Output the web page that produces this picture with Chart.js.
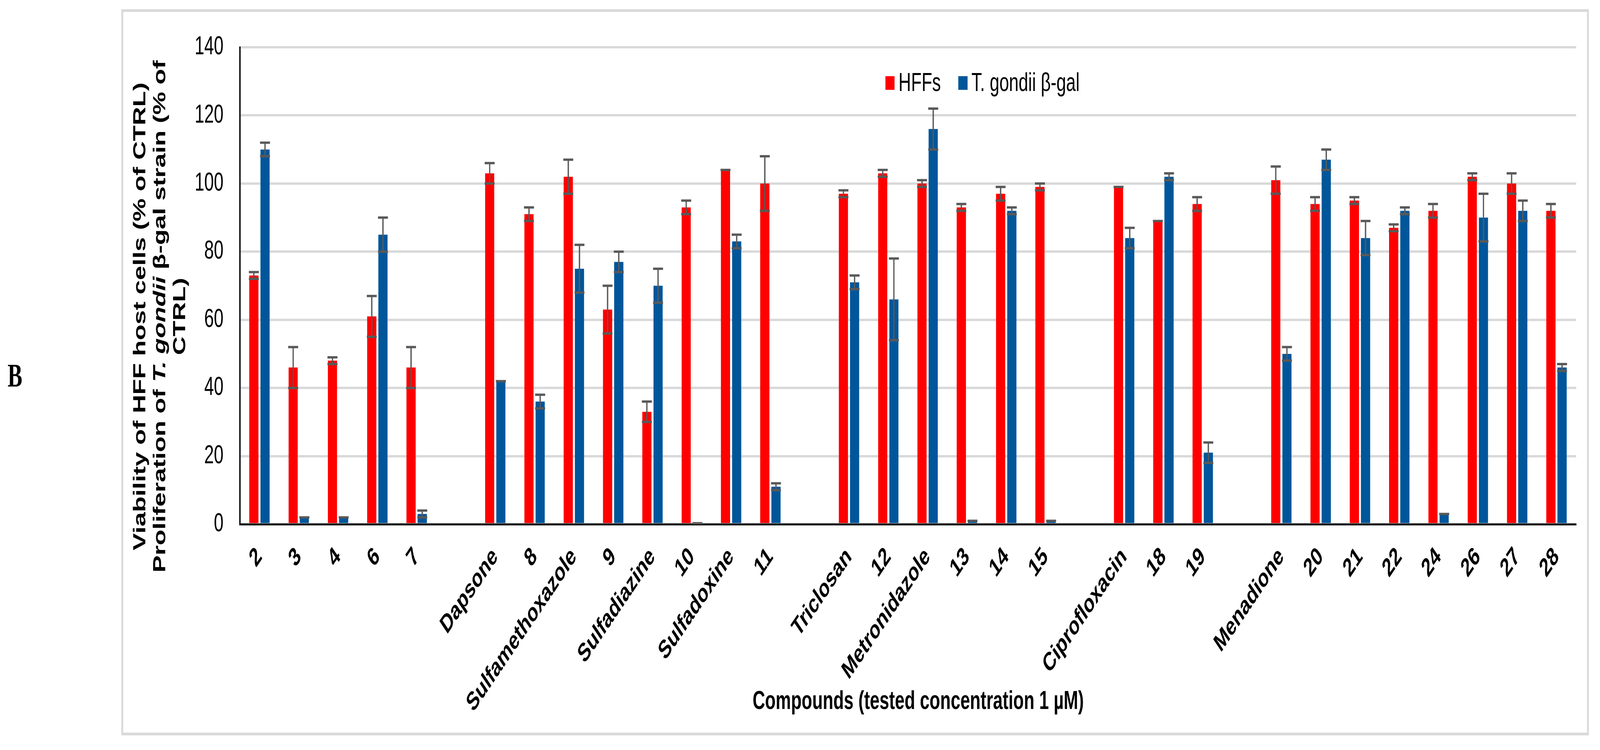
<!DOCTYPE html>
<html><head><meta charset="utf-8">
<script src="https://cdn.jsdelivr.net/npm/chart.js@4.4.1/dist/chart.umd.min.js"></script>
<style>html,body{margin:0;padding:0;background:#fff;overflow:hidden;} #c{display:block;width:100vw;height:100vh;}</style>
</head><body><canvas id="c" width="6099" height="1920" style="width:100vw;height:100vh;"></canvas>
<script>
const categories = ['2','3','4','6','7','',
  'Dapsone','8','Sulfamethoxazole','9','Sulfadiazine','10','Sulfadoxine','11','',
  'Triclosan','12','Metronidazole','13','14','15','',
  'Ciprofloxacin','18','19','',
  'Menadione','20','21','22','24','26','27','28'];
const hffValues = [73,46,48,61,46,null, 103,91,102,63,33,93,104,100,null, 97,103,100,93,97,99,null, 99,89,94,null, 101,94,95,87,92,102,100,92];
const hffErrors = [1,6,1,6,6,null, 3,2,5,7,3,2,0,8,null, 1,1,1,1,2,1,null, 0,0,2,null, 4,2,1,1,2,1,3,2];
const tgValues  = [110,2,2,85,3,null, 42,36,75,77,70,0.3,83,11,null, 71,66,116,1,92,1,null, 84,102,21,null, 50,107,84,92,3,90,92,46];
const tgErrors  = [2,0,0,5,1,null, 0,2,7,3,5,0,2,1,null, 2,12,6,0,1,0,null, 3,1,3,null, 2,3,5,1,0,7,3,1];
const yTicks = [0,20,40,60,80,100,120,140];
const seriesNames = ['HFFs','T. gondii β-gal'];
const seriesColors = ['#ff0000','#00569a'];

const FONT = '"Liberation Sans", Arial, sans-serif';

const framePlugin = {
  id:'frame',
  beforeDraw(chart){
    const ctx = chart.ctx;
    ctx.save();
    ctx.fillStyle = '#fff';
    ctx.fillRect(0,0,chart.width,chart.height);
    ctx.strokeStyle = '#d9d9d9';
    ctx.lineWidth = 7;
    ctx.strokeRect(466,27,6053-466,1879-27);
    ctx.restore();
  }
};

const errorBarPlugin = {
  id:'errbars',
  afterDatasetsDraw(chart){
    const ctx = chart.ctx, y = chart.scales.y;
    chart.data.datasets.forEach((ds,i)=>{
      const meta = chart.getDatasetMeta(i);
      meta.data.forEach((el,j)=>{
        const v = ds.data[j], e = ds.errors[j];
        if (v == null) return;
        const top = y.getPixelForValue(v + e), bot = y.getPixelForValue(Math.max(v - e, 0));
        const half = el.width/2 + 1.5;
        ctx.save();
        ctx.strokeStyle = '#595959';
        ctx.lineWidth = 5;
        ctx.beginPath(); ctx.moveTo(el.x, top); ctx.lineTo(el.x, bot); ctx.stroke();
        ctx.lineWidth = 6;
        ctx.beginPath();
        ctx.moveTo(el.x-half, top); ctx.lineTo(el.x+half, top);
        ctx.moveTo(el.x-half, bot); ctx.lineTo(el.x+half, bot);
        ctx.stroke();
        ctx.restore();
      });
    });
  }
};

const textPlugin = {
  id:'texts',
  afterDraw(chart){
    const ctx = chart.ctx;
    ctx.save();
    ctx.fillStyle = '#000';
    ctx.font = 'bold 84px "Liberation Serif", "Times New Roman", serif';
    ctx.textAlign = 'left'; ctx.textBaseline = 'alphabetic';
    ctx.fillText('B', 29, 990);
    ctx.font = 'bold 66px ' + FONT;
    ctx.textAlign = 'center';
    ctx.fillText('Compounds (tested concentration 1 µM)', 3500, 1815);
    const lines = [
      [['Viability of HFF host cells (% of CTRL)','bold']],
      [['Proliferation of ','bold'],['T. gondii','italic bold'],[' β-gal strain (% of','bold']],
      [['CTRL)','bold']]
    ];
    const xs = [554, 630, 706];
    lines.forEach((segs,li)=>{
      ctx.save();
      ctx.translate(xs[li], 810);
      ctx.rotate(-Math.PI/2);
      ctx.textAlign = 'left';
      let total = 0;
      segs.forEach(s=>{ ctx.font = s[1]+' 66px '+FONT; total += ctx.measureText(s[0]).width; });
      let x = -total/2;
      segs.forEach(s=>{ ctx.font = s[1]+' 66px '+FONT; ctx.fillText(s[0], x, 0); x += ctx.measureText(s[0]).width; });
      ctx.restore();
    });
    ctx.font = '66px ' + FONT;
    ctx.textAlign = 'left';
    const lx = [3375, 3653];
    seriesNames.forEach((n,i)=>{
      ctx.fillStyle = seriesColors[i];
      ctx.fillRect(lx[i], 195, 35, 35);
      ctx.fillStyle = '#000';
      ctx.fillText(n, lx[i] + 50, 233);
    });
    ctx.restore();
  }
};

new Chart(document.getElementById('c'), {
  type:'bar',
  data:{
    labels: categories,
    datasets:[
      {label:seriesNames[0], data:hffValues, errors:hffErrors, backgroundColor:seriesColors[0], categoryPercentage:0.569, barPercentage:0.82},
      {label:seriesNames[1], data:tgValues, errors:tgErrors, backgroundColor:seriesColors[1], categoryPercentage:0.569, barPercentage:0.82}
    ]
  },
  options:{
    responsive:false, devicePixelRatio:1, animation:false,
    layout:{padding:{left:0,right:91,top:121,bottom:0}},
    plugins:{legend:{display:false}, tooltip:{enabled:false}},
    scales:{
      x:{
        grid:{display:false, drawTicks:false},
        border:{color:'#000', width:5},
        ticks:{autoSkip:false, minRotation:45, maxRotation:45, padding:45, color:'#000', font:{family:FONT, size:66, weight:'bold'}},
        afterFit(s){ s.height = 578; }
      },
      y:{
        min:0, max:140,
        grid:{color:'#d9d9d9', lineWidth:6, drawTicks:false},
        border:{color:'#000', width:5},
        ticks:{padding:62, color:'#000', font:{family:FONT, size:66}},
        afterBuildTicks(s){ s.ticks = yTicks.map(v=>({value:v})); },
        afterFit(s){ s.width = 914; }
      }
    }
  },
  plugins:[framePlugin, errorBarPlugin, textPlugin]
});
</script>
</body></html>
